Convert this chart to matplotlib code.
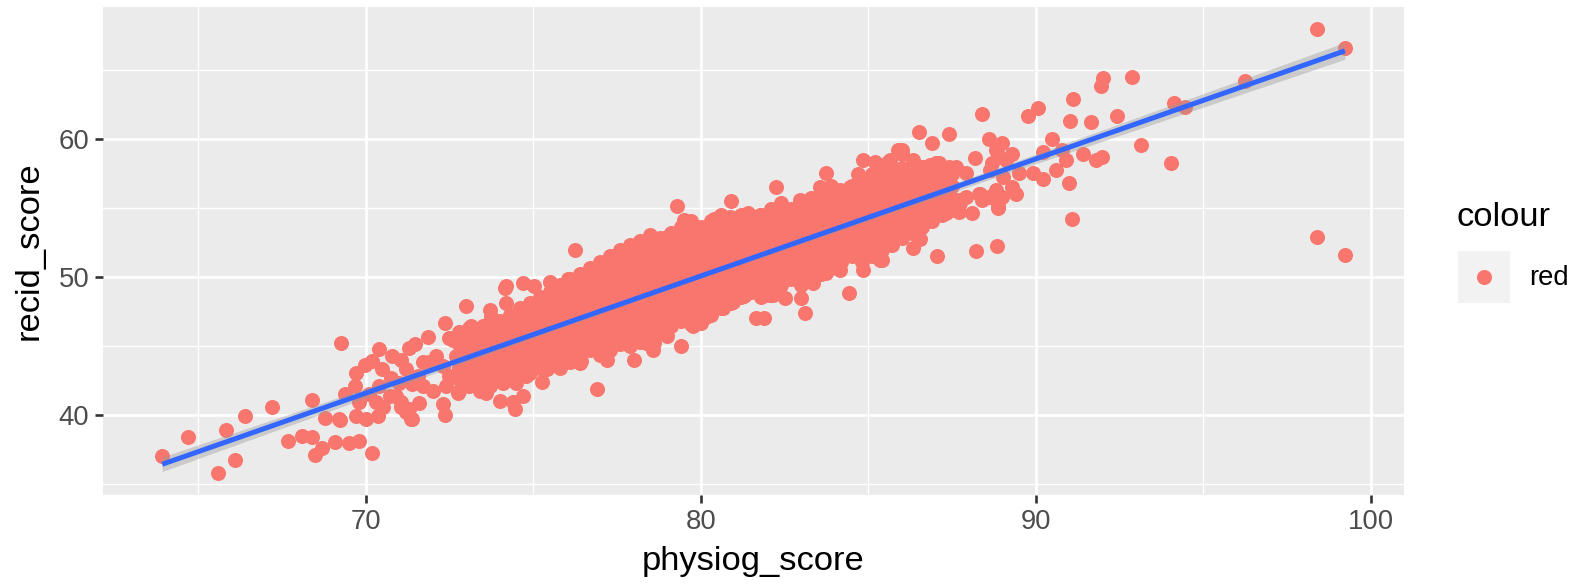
import numpy as np
import matplotlib.pyplot as plt

plt.rcParams["font.family"] = ["Liberation Sans", "DejaVu Sans"]

# ------------------------------------------------------------------
# Data
# ------------------------------------------------------------------
# loose points: tails and the ragged edge of the cloud
edge_physiog = [
    63.93, 64.7, 65.6, 65.85, 66.1, 66.4, 67.2, 67.7, 68.1, 68.4,
    68.5, 68.7, 68.4, 68.8, 69.1, 69.27, 69.25, 69.5, 69.8, 70.2,
    69.4, 69.7, 69.97, 70.2, 69.67, 70.4, 70.8, 70.5, 70.77, 70.1,
    69.8, 70.4, 70.3, 70.9, 71.07, 71.3, 71.4, 70.37, 70.02, 69.72,
    69.2, 70.52, 70.72, 71.07, 71.36, 71.6, 71.3, 71.46, 71.07, 71.86,
    72.36, 72.1, 71.9, 71.56, 71.4, 72.0, 72.4, 72.3, 72.36, 72.76,
    73.0, 73.15, 73.3, 72.9, 72.6, 72.7, 73.1, 72.9, 73.3, 73.6,
    74.0, 74.4, 74.45, 73.8, 73.7, 73.75, 74.15, 74.2, 74.7, 73.5,
    73.9, 74.3, 74.6, 73.4, 73.9, 74.4, 73.6, 74.1, 74.5, 74.7,
    74.1, 74.5, 74.7, 71.0, 71.7, 71.2, 71.7, 72.3, 72.5, 72.5,
    71.2,
    75.04, 75.5, 76.04, 76.3, 76.7, 74.2, 76.24, 79.3, 79.5, 80.4,
    79.97, 78.5, 78.4, 77.8, 77.45, 77.05, 79.0, 79.3, 75.25, 74.8,
    75.4, 75.7, 76.1, 76.44, 76.9, 77.2, 77.6, 78.0, 78.6, 79.4,
    79.0, 79.77, 80.17, 80.0, 78.37, 77.88, 78.58, 76.39, 76.09, 74.6,
    74.1, 80.9, 81.4, 82.26, 83.75, 84.85, 84.7, 85.2, 85.6, 85.9,
    82.96, 82.4, 83.35, 83.75, 84.15, 84.55, 84.95, 85.45, 83.1, 81.66,
    81.9, 84.43, 84.85, 85.4, 82.5, 83.0, 82.1, 80.67, 80.97, 81.3,
    83.35, 84.15, 83.75, 85.1, 85.7, 80.87, 81.76, 82.36, 83.55, 83.95,
    84.45, 85.24, 85.94, 86.64, 84.55, 84.05, 83.55, 81.96, 82.16,
    86.0, 86.84, 87.1, 87.4, 88.18, 88.7, 88.1, 87.7, 87.33, 88.3,
    88.6, 88.2, 88.85, 87.06, 86.54, 86.34, 85.97, 85.77, 85.34, 86.94,
    86.54, 86.24, 85.94, 87.73, 87.23, 86.5, 86.9, 87.4, 88.4, 88.6,
    89.0, 89.77, 90.07, 91.1, 91.03, 90.47, 90.2, 90.77, 86.0, 88.87,
    89.3, 90.99, 91.07, 86.34, 88.87, 89.4, 89.9, 90.2, 90.6, 90.9,
    85.74, 89.0, 88.4, 87.93, 87.6, 88.87, 91.94, 92.0, 92.87, 92.43,
    91.66, 91.96, 91.8, 91.4, 93.15, 94.03, 94.12, 94.45, 96.24, 98.4,
    99.22, 98.4, 99.22, 85.94, 86.54, 87.03, 87.63, 87.93, 88.63, 89.03,
    88.33, 87.73, 87.33, 86.84, 88.82, 89.3, 89.5, 89.1, 88.8, 85.64,
    86.34,
]
edge_recid = [
    37.0, 38.4, 35.8, 38.9, 36.7, 39.9, 40.6, 38.1, 38.5, 38.4,
    37.1, 37.6, 41.1, 39.75, 38.0, 45.2, 39.65, 37.95, 38.1, 37.2,
    41.5, 43.05, 43.6, 43.9, 42.1, 44.8, 44.25, 43.3, 42.7, 41.5,
    40.9, 42.1, 40.9, 41.35, 40.9, 40.4, 39.7, 39.9, 39.67, 39.9,
    39.7, 40.6, 41.36, 40.6, 39.67, 40.83, 44.85, 45.1, 44.0, 45.6,
    46.65, 44.25, 43.8, 42.8, 42.2, 41.7, 42.1, 40.75, 40.0, 41.6,
    47.85, 46.4, 45.7, 44.97, 45.45, 44.25, 43.8, 43.05, 42.55, 41.6,
    41.0, 40.9, 40.4, 42.8, 47.6, 47.1, 49.2, 48.1, 49.55, 46.4,
    46.2, 46.9, 47.6, 44.97, 44.7, 45.45, 44.0, 43.8, 44.25, 43.3,
    42.55, 42.3, 41.35, 42.3, 42.1, 43.3, 43.8, 43.5, 42.8, 45.57,
    40.2,
    49.3, 49.65, 49.8, 49.65, 49.8, 49.3, 51.95, 55.1, 54.1, 54.2,
    53.5, 53.0, 52.2, 51.95, 51.35, 50.5, 52.9, 53.0, 42.4, 42.8,
    43.3, 44.4, 44.1, 43.9, 41.9, 44.0, 45.45, 44.0, 45.2, 44.97,
    45.7, 46.4, 47.1, 46.65, 45.2, 44.97, 44.7, 43.77, 44.25, 43.5,
    42.3, 55.5, 54.6, 56.5, 57.5, 58.45, 57.4, 58.3, 58.3, 59.2,
    55.55, 54.8, 55.3, 56.3, 56.3, 56.3, 56.15, 57.7, 47.4, 47.0,
    47.0, 48.8, 50.5, 51.2, 48.45, 48.45, 48.7, 47.7, 48.2, 48.6,
    49.55, 50.5, 50.27, 52.2, 52.7, 54.35, 54.48, 54.96, 56.5, 56.28,
    56.5, 57.6, 57.7, 57.96, 51.95, 51.2, 50.5, 48.7, 48.7,
    58.9, 58.1, 58.2, 57.96, 58.57, 58.2, 54.6, 54.7, 54.6, 56.0,
    55.8, 51.85, 52.2, 51.5, 52.7, 52.1, 53.6, 54.1, 51.2, 55.8,
    56.0, 55.07, 54.35, 55.56, 56.0, 60.5, 59.7, 60.3, 61.8, 59.96,
    59.65, 61.6, 62.2, 62.9, 61.3, 59.94, 59.05, 59.17, 59.2, 58.8,
    58.9, 56.8, 54.2, 54.1, 54.96, 56.0, 57.5, 57.1, 57.7, 58.45,
    53.4, 55.8, 55.56, 55.8, 54.84, 55.1, 63.8, 64.4, 64.45, 61.6,
    61.2, 58.7, 58.45, 58.86, 59.5, 58.2, 62.6, 62.3, 64.15, 67.9,
    66.56, 52.9, 51.6, 56.5, 57.96, 58.2, 57.96, 57.5, 57.7, 57.24,
    56.0, 55.3, 55.56, 56.5, 56.28, 56.5, 57.5, 58.45, 59.17, 58.45,
    58.45,
]

# solid middle of the cloud, read column by column
core_physiog = [72.8, 73.1, 73.4, 73.7, 74.0, 74.3, 74.6, 74.9, 75.2, 75.5,
                75.8, 76.1, 76.4, 76.7, 77.0, 77.3, 77.6, 77.9, 78.2, 78.5,
                78.8, 79.1, 79.4, 79.7, 80.0, 80.3, 80.6, 80.9, 81.2, 81.5,
                81.8, 82.1, 82.4, 82.7, 83.0, 83.3, 83.6, 83.9, 84.2, 84.5,
                84.8, 85.1, 85.4, 85.7, 86.0, 86.3, 86.6, 86.9, 87.2, 87.5]
core_recid = [
    [41.7, 42.6, 43.4, 44.3, 45.1, 46.0],
    [42.1, 43.0, 43.8, 44.7, 45.5, 46.3],
    [41.7, 42.6, 43.4, 44.3, 45.1, 46.0],
    [42.1, 43.0, 43.8, 44.7, 45.5, 46.4],
    [42.6, 43.4, 44.3, 45.1, 46.0, 46.8],
    [43.0, 43.8, 44.7, 45.5, 46.4, 47.2],
    [42.8, 43.4, 44.3, 45.1, 46.0, 46.8, 47.7],
    [43.0, 43.8, 44.7, 45.5, 46.4, 47.2, 48.1],
    [43.4, 44.3, 45.1, 46.0, 46.8, 47.7, 48.5],
    [43.8, 44.7, 45.5, 46.4, 47.2, 48.1, 48.9],
    [43.4, 44.3, 45.1, 46.0, 46.8, 47.7, 48.5, 49.4],
    [43.8, 44.7, 45.5, 46.4, 47.2, 48.1, 48.9, 49.8],
    [44.3, 45.1, 46.0, 46.8, 47.7, 48.5, 49.4, 50.2],
    [44.7, 45.5, 46.4, 47.2, 48.1, 48.9, 49.8, 50.6],
    [44.3, 45.1, 46.0, 46.8, 47.7, 48.5, 49.4, 50.2, 51.1],
    [44.7, 45.5, 46.4, 47.2, 48.1, 48.9, 49.8, 50.6, 51.5],
    [45.1, 46.0, 46.8, 47.7, 48.5, 49.4, 50.2, 51.1, 51.9],
    [45.5, 46.4, 47.2, 48.1, 48.9, 49.8, 50.6, 51.5, 52.3],
    [45.3, 46.0, 46.8, 47.7, 48.5, 49.4, 50.2, 51.1, 51.9, 52.6],
    [45.5, 46.4, 47.2, 48.1, 48.9, 49.8, 50.6, 51.5, 52.3],
    [46.0, 46.8, 47.7, 48.5, 49.4, 50.2, 51.1, 51.9, 52.8],
    [46.4, 47.2, 48.1, 48.9, 49.8, 50.6, 51.5, 52.3, 53.2],
    [46.8, 47.7, 48.5, 49.4, 50.2, 51.1, 51.9, 52.8, 53.6],
    [46.6, 47.2, 48.1, 48.9, 49.8, 50.6, 51.5, 52.3, 53.2, 54.0],
    [46.8, 47.7, 48.5, 49.4, 50.2, 51.1, 51.9, 52.8, 53.6],
    [47.2, 48.1, 48.9, 49.8, 50.6, 51.5, 52.3, 53.2, 54.0],
    [47.7, 48.5, 49.4, 50.2, 51.1, 51.9, 52.8, 53.6, 54.5],
    [48.1, 48.9, 49.8, 50.6, 51.5, 52.3, 53.2, 54.0],
    [48.5, 49.4, 50.2, 51.1, 51.9, 52.8, 53.6, 54.5],
    [48.9, 49.8, 50.6, 51.5, 52.3, 53.2, 54.0],
    [48.5, 49.4, 50.2, 51.1, 51.9, 52.8, 53.6, 54.5],
    [48.9, 49.8, 50.6, 51.5, 52.3, 53.2, 54.0, 54.9],
    [49.4, 50.2, 51.1, 51.9, 52.8, 53.6, 54.5, 55.3],
    [49.8, 50.6, 51.5, 52.3, 53.2, 54.0, 54.9],
    [49.4, 50.2, 51.1, 51.9, 52.8, 53.6, 54.5, 55.3],
    [49.8, 50.6, 51.5, 52.3, 53.2, 54.0, 54.9, 55.7],
    [50.2, 51.1, 51.9, 52.8, 53.6, 54.5, 55.3, 56.2],
    [50.6, 51.5, 52.3, 53.2, 54.0, 54.9, 55.7, 56.6],
    [51.1, 51.9, 52.8, 53.6, 54.5, 55.3, 56.2],
    [51.5, 52.3, 53.2, 54.0, 54.9, 55.7, 56.6],
    [51.1, 51.9, 52.8, 53.6, 54.5, 55.3, 56.2, 57.0],
    [51.5, 52.3, 53.2, 54.0, 54.9, 55.7, 56.6, 57.4],
    [51.9, 52.8, 53.6, 54.5, 55.3, 56.2, 57.0, 57.9],
    [52.3, 53.2, 54.0, 54.9, 55.7, 56.6, 57.4],
    [52.8, 53.6, 54.5, 55.3, 56.2, 57.0, 57.9],
    [53.2, 54.0, 54.9, 55.7, 56.6, 57.4],
    [53.6, 54.5, 55.3, 56.2, 57.0, 57.9],
    [54.0, 54.9, 55.7, 56.6, 57.4],
    [54.5, 55.3, 56.2, 57.0, 57.9],
    [54.9, 55.7, 56.6, 57.4],
]

x_ticks = [70, 80, 90, 100]
y_ticks = [40, 50, 60]
legend_title = "colour"
legend_label = "red"

assert len(edge_physiog) == len(edge_recid)
assert len(core_physiog) == len(core_recid)

physiog_score = np.array(edge_physiog + [x for x, col in zip(core_physiog, core_recid) for _ in col])
recid_score = np.array(edge_recid + [y for col in core_recid for y in col])

POINT = "#F8766D"
LINE = "#3366FF"
PANEL = "#EBEBEB"

W, H = 1578, 584
fig = plt.figure(figsize=(W / 100, H / 100), dpi=100)
ax = fig.add_axes([103 / W, 1 - 495 / H, (1404 - 103) / W, (495 - 7.3) / H])
ax.set_facecolor(PANEL)
for sp in ax.spines.values():
    sp.set_visible(False)

ax.scatter(physiog_score, recid_score, s=117, color=POINT, linewidths=0, zorder=3)

# geom_smooth(method = "lm") equivalent: fit + 95% band
slope, icpt = np.polyfit(physiog_score, recid_score, 1)
xs = np.linspace(physiog_score.min(), physiog_score.max(), 100)
fit = icpt + slope * xs
n = len(physiog_score)
resid = recid_score - (icpt + slope * physiog_score)
s2 = resid @ resid / (n - 2)
sxx = ((physiog_score - physiog_score.mean()) ** 2).sum()
se = np.sqrt(s2 * (1 / n + (xs - physiog_score.mean()) ** 2 / sxx))
ax.fill_between(xs, fit - 1.96 * se, fit + 1.96 * se, color="#999999", alpha=0.4, lw=0, zorder=4)
ax.plot(xs, fit, color=LINE, lw=3.6, zorder=5, solid_capstyle="butt")

# ggplot style 5% expansion
xr = physiog_score.max() - physiog_score.min()
yr = recid_score.max() - recid_score.min()
ax.set_xlim(physiog_score.min() - 0.05 * xr, physiog_score.max() + 0.05 * xr)
ax.set_ylim(recid_score.min() - 0.05 * yr, recid_score.max() + 0.05 * yr)

ax.set_xticks(x_ticks)
ax.set_yticks(y_ticks)
ax.set_xticks([65, 75, 85, 95], minor=True)
ax.set_yticks([35, 45, 55, 65], minor=True)
ax.grid(which="major", color="white", lw=1.9)
ax.grid(which="minor", color="white", lw=0.95)
ax.set_axisbelow(True)
ax.tick_params(which="major", length=6, width=1.9, color="#333333",
               labelsize=19.8, labelcolor="#4D4D4D", pad=4)
ax.tick_params(which="minor", length=0)

ax.set_xlabel("physiog_score", fontsize=24.8, labelpad=8)
ax.set_ylabel("recid_score", fontsize=24.8, labelpad=10)

# legend, drawn by hand to look like ggplot's guide
fig.text(1457 / W, 1 - 217 / H, legend_title, fontsize=24.8, ha="left", va="center")
key = fig.add_axes([1458 / W, 1 - 303 / H, 52 / W, 52 / H])
key.set_facecolor("#F2F2F2")
for sp in key.spines.values():
    sp.set_visible(False)
key.set_xticks([])
key.set_yticks([])
key.set_xlim(0, 1)
key.set_ylim(0, 1)
key.scatter([0.5], [0.5], s=117, color=POINT, linewidths=0)
fig.text(1529 / W, 1 - 278 / H, legend_label, fontsize=19.8, ha="left", va="center")

fig.savefig("out.png", dpi=100)
